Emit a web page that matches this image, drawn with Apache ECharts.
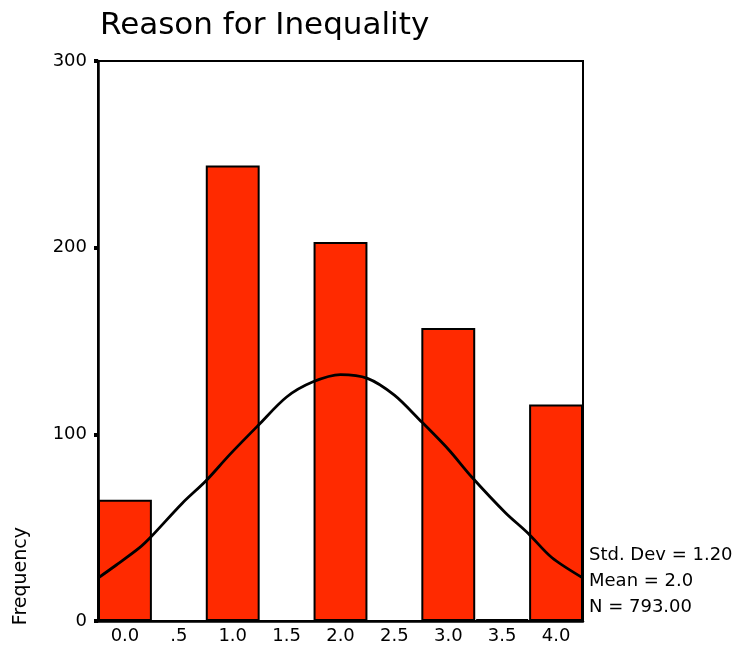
<!DOCTYPE html>
<html>
<head>
<meta charset="utf-8">
<script src="https://cdn.jsdelivr.net/npm/echarts@6/dist/echarts.min.js"></script>
<style>
  html, body { margin: 0; padding: 0; background: #fff; }
  #chart { width: 735px; height: 654px; }
</style>
</head>
<body>
<div id="chart"></div>
<script>
// bin labels (bin width .5)
var binLabels = ['0.0', '.5', '1.0', '1.5', '2.0', '2.5', '3.0', '3.5', '4.0']
// frequencies
var binCounts = [65, 0, 244, 0, 203, 0, 157, 1, 116]
// normal curve as [x, frequency]
var curvePoints = [
  [-0.25, 23], [-0.08, 30], [0.13, 39], [0.24, 45], [0.53, 63], [0.75, 75],
  [0.97, 89], [1.24, 105], [1.5, 120], [1.74, 128], [2.0, 132], [2.25, 130],
  [2.5, 121], [2.73, 108], [3.0, 92], [3.22, 77], [3.53, 58], [3.74, 47],
  [3.96, 34], [4.25, 23]
]
var yTicks = [0, 100, 200, 300]
var statLines = ['Std. Dev = 1.20', 'Mean = 2.0', 'N = 793.00']

var font = 'DejaVu Sans'
var chart = echarts.init(document.getElementById('chart'))

chart.setOption({
  animation: false,
  title: {
    text: 'Reason for Inequality',
    left: 95,
    top: 5,
    textStyle: { fontFamily: font, fontSize: 31, fontWeight: 'normal', color: '#000' }
  },
  grid: {
    left: 98,
    top: 61,
    right: 152,
    bottom: 33,
    show: true,
    borderColor: '#000',
    borderWidth: 2
  },
  xAxis: [
    {
      type: 'category',
      data: binLabels,
      axisLine: { lineStyle: { color: '#000', width: 2.5 } },
      axisTick: { alignWithLabel: true, length: 4, lineStyle: { color: '#000', width: 6 } },
      axisLabel: { fontFamily: font, fontSize: 18, color: '#000', margin: 6 }
    },
    {
      type: 'value',
      min: -0.25,
      max: 4.25,
      show: false
    }
  ],
  yAxis: {
    type: 'value',
    min: 0,
    max: 300,
    interval: 100,
    splitLine: { show: false },
    axisLine: { show: true, onZero: false, lineStyle: { color: '#000', width: 2.5 } },
    axisTick: { show: true, length: 4, lineStyle: { color: '#000', width: 4 } },
    axisLabel: {
      fontFamily: font, fontSize: 18, color: '#000', margin: 11,
      formatter: function (v) { return yTicks.indexOf(v) >= 0 ? String(v) : '' }
    }
  },
  series: [
    {
      type: 'bar',
      xAxisIndex: 0,
      data: binCounts,
      barCategoryGap: 0,
      itemStyle: { color: '#ff2a00', borderColor: '#000', borderWidth: 2 }
    },
    {
      type: 'line',
      xAxisIndex: 1,
      data: curvePoints,
      smooth: 0.3,
      symbol: 'none',
      lineStyle: { color: '#000', width: 2.8, join: 'round' }
    }
  ],
  graphic: [
    {
      type: 'text',
      left: 12,
      top: 527,
      rotation: Math.PI / 2,
      style: { text: 'Frequency', fontFamily: font, fontSize: 19, fill: '#000' }
    }
  ].concat(statLines.map(function (s, i) {
    return {
      type: 'text',
      left: 589,
      top: 546 + i * 26,
      style: { text: s, fontFamily: font, fontSize: 18, fill: '#000' }
    }
  }))
})
</script>
</body>
</html>
